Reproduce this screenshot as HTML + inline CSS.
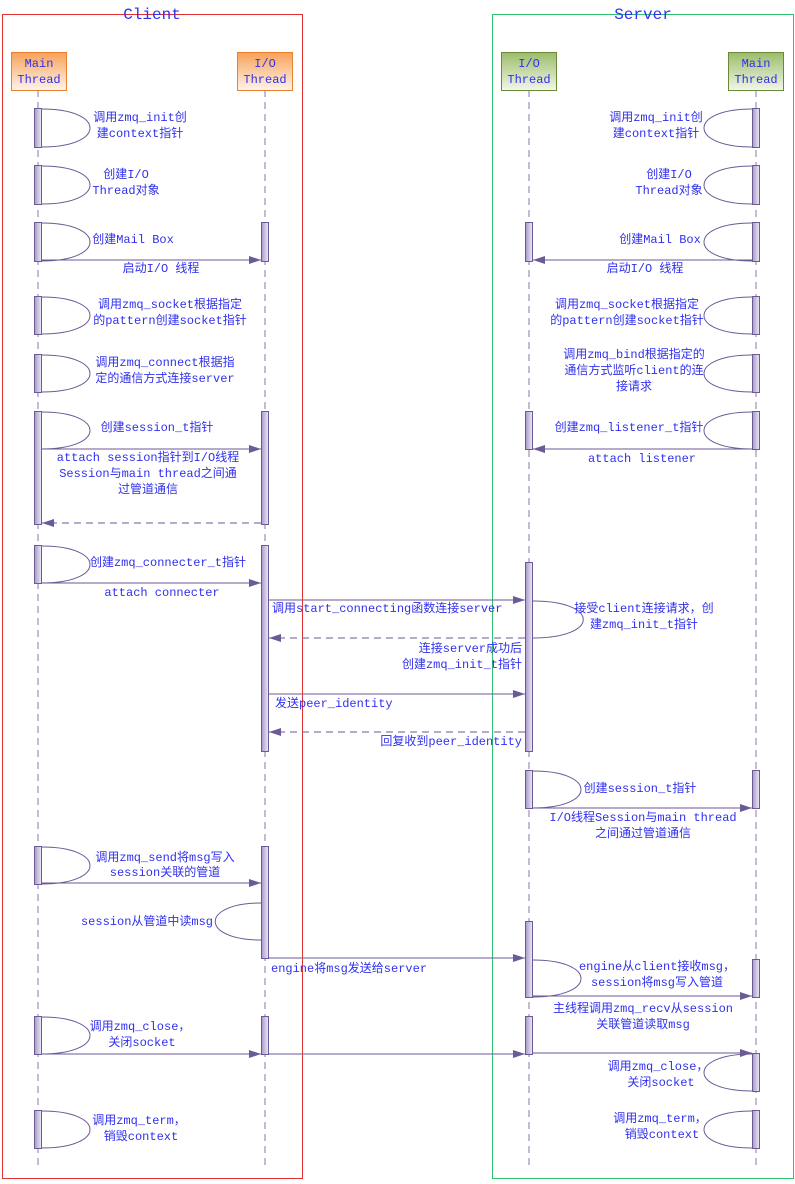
<!DOCTYPE html>
<html><head><meta charset="utf-8"><style>
body{margin:0;background:#fff}
text{font-family:"Liberation Mono","Noto Sans CJK SC",monospace;font-size:12px;fill:#3030ee}
</style></head><body>
<svg width="795" height="1179" viewBox="0 0 795 1179" xmlns="http://www.w3.org/2000/svg">
<defs>
<linearGradient id="og" x1="0" y1="0" x2="0" y2="1"><stop offset="0" stop-color="#f7a25a"/><stop offset="1" stop-color="#fff4ea"/></linearGradient>
<linearGradient id="gg" x1="0" y1="0" x2="0" y2="1"><stop offset="0" stop-color="#9cbc6a"/><stop offset="1" stop-color="#f2f7ea"/></linearGradient>
<linearGradient id="bar" x1="0" y1="0" x2="1" y2="0"><stop offset="0" stop-color="#a898c8"/><stop offset="1" stop-color="#eeeaf6"/></linearGradient>
<marker id="a" markerWidth="12" markerHeight="8" refX="12" refY="4" orient="auto" markerUnits="userSpaceOnUse"><path d="M0,0 L12,4 L0,8z" fill="#6a5a96"/></marker>
</defs>
<rect x="2.5" y="14.5" width="300" height="1164" fill="none" stroke="#e03030"/>
<rect x="492.5" y="14.5" width="301" height="1164" fill="none" stroke="#30c070"/>
<text x="152" y="19" text-anchor="middle" style="font-size:16px">Client</text>
<text x="643" y="19" text-anchor="middle" style="font-size:16px">Server</text>
<g stroke="#8a7aaa" stroke-dasharray="7,5">
<line x1="38" y1="90" x2="38" y2="1168"/><line x1="265" y1="90" x2="265" y2="1168"/>
<line x1="529" y1="90" x2="529" y2="1168"/><line x1="756" y1="90" x2="756" y2="1168"/>
</g>
<rect x="11.5" y="52.5" width="55" height="38" fill="url(#og)" stroke="#e88030"/>
<rect x="237.5" y="52.5" width="55" height="38" fill="url(#og)" stroke="#e88030"/>
<rect x="501.5" y="52.5" width="55" height="38" fill="url(#gg)" stroke="#6a8a3a"/>
<rect x="728.5" y="52.5" width="55" height="38" fill="url(#gg)" stroke="#6a8a3a"/>
<text x="39" y="67" text-anchor="middle">Main</text><text x="39" y="83" text-anchor="middle">Thread</text>
<text x="265" y="67" text-anchor="middle">I/O</text><text x="265" y="83" text-anchor="middle">Thread</text>
<text x="529" y="67" text-anchor="middle">I/O</text><text x="529" y="83" text-anchor="middle">Thread</text>
<text x="756" y="67" text-anchor="middle">Main</text><text x="756" y="83" text-anchor="middle">Thread</text>
<g fill="url(#bar)" stroke="#6a5a96">
<rect x="34.5" y="108.5" width="7" height="39"/><rect x="34.5" y="165.5" width="7" height="39"/>
<rect x="34.5" y="222.5" width="7" height="39"/><rect x="34.5" y="296.5" width="7" height="38"/>
<rect x="34.5" y="354.5" width="7" height="38"/><rect x="34.5" y="411.5" width="7" height="113"/>
<rect x="34.5" y="545.5" width="7" height="38"/><rect x="34.5" y="846.5" width="7" height="38"/>
<rect x="34.5" y="1016.5" width="7" height="38"/><rect x="34.5" y="1110.5" width="7" height="38"/>
<rect x="261.5" y="222.5" width="7" height="39"/><rect x="261.5" y="411.5" width="7" height="113"/>
<rect x="261.5" y="545.5" width="7" height="206"/><rect x="261.5" y="846.5" width="7" height="112"/>
<rect x="261.5" y="1016.5" width="7" height="38"/>
<rect x="525.5" y="222.5" width="7" height="39"/><rect x="525.5" y="411.5" width="7" height="38"/>
<rect x="525.5" y="562.5" width="7" height="189"/><rect x="525.5" y="770.5" width="7" height="38"/>
<rect x="525.5" y="921.5" width="7" height="76"/><rect x="525.5" y="1016.5" width="7" height="38"/>
<rect x="752.5" y="108.5" width="7" height="39"/><rect x="752.5" y="165.5" width="7" height="39"/>
<rect x="752.5" y="222.5" width="7" height="39"/><rect x="752.5" y="296.5" width="7" height="38"/>
<rect x="752.5" y="354.5" width="7" height="38"/><rect x="752.5" y="411.5" width="7" height="38"/>
<rect x="752.5" y="770.5" width="7" height="38"/><rect x="752.5" y="959.5" width="7" height="38"/>
<rect x="752.5" y="1053.5" width="7" height="38"/><rect x="752.5" y="1110.5" width="7" height="38"/>
</g>
<g fill="none" stroke="#6a5a96">
<path d="M42,109 C106,109 106,147 42,147"/><path d="M42,166 C106,166 106,204 42,204"/>
<path d="M42,223 C106,223 106,261 42,261"/><path d="M42,297 C106,297 106,334 42,334"/>
<path d="M42,355 C106,355 106,392 42,392"/><path d="M42,412 C106,412 106,449 42,449"/>
<path d="M42,546 C106,546 106,583 42,583"/><path d="M42,847 C106,847 106,884 42,884"/>
<path d="M42,1017 C106,1017 106,1054 42,1054"/><path d="M42,1111 C106,1111 106,1148 42,1148"/>
<path d="M752,109 C688,109 688,147 752,147"/><path d="M752,166 C688,166 688,204 752,204"/>
<path d="M752,223 C688,223 688,261 752,261"/><path d="M752,297 C688,297 688,334 752,334"/>
<path d="M752,355 C688,355 688,392 752,392"/><path d="M752,412 C688,412 688,449 752,449"/>
<path d="M752,1054 C688,1054 688,1091 752,1091"/><path d="M752,1111 C688,1111 688,1148 752,1148"/>
<path d="M533,601 C600,601 600,638 533,638"/><path d="M533,771 C597,771 597,808 533,808"/>
<path d="M533,960 C597,960 597,997 533,997"/>
<path d="M261,903 C200,903 200,940 261,940"/>
</g>
<g stroke="#6a5a96" fill="none" marker-end="url(#a)">
<line x1="42" y1="260" x2="261" y2="260"/><line x1="752" y1="260" x2="533" y2="260"/>
<line x1="42" y1="449" x2="261" y2="449"/><line x1="752" y1="449" x2="533" y2="449"/>
<line x1="261" y1="523" x2="42" y2="523" stroke-dasharray="7,5"/>
<line x1="42" y1="583" x2="261" y2="583"/>
<line x1="269" y1="600" x2="525" y2="600"/>
<line x1="525" y1="638" x2="269" y2="638" stroke-dasharray="7,5"/>
<line x1="269" y1="694" x2="525" y2="694"/>
<line x1="525" y1="732" x2="269" y2="732" stroke-dasharray="7,5"/>
<line x1="533" y1="808" x2="752" y2="808"/>
<line x1="42" y1="883" x2="261" y2="883"/>
<line x1="269" y1="958" x2="525" y2="958"/>
<line x1="533" y1="996" x2="752" y2="996"/>
<line x1="42" y1="1054" x2="261" y2="1054"/><line x1="269" y1="1054" x2="525" y2="1054"/>
<line x1="533" y1="1053" x2="752" y2="1053"/>
</g>
<g text-anchor="middle">
<text x="140" y="121">调用zmq_init创</text><text x="140" y="137">建context指针</text>
<text x="126" y="178">创建I/O</text><text x="126" y="194">Thread对象</text>
<text x="133" y="243">创建Mail Box</text>
<text x="161" y="272">启动I/O 线程</text>
<text x="170" y="308">调用zmq_socket根据指定</text><text x="170" y="324">的pattern创建socket指针</text>
<text x="165" y="366">调用zmq_connect根据指</text><text x="165" y="382">定的通信方式连接server</text>
<text x="157" y="431">创建session_t指针</text>
<text x="148" y="461">attach session指针到I/O线程</text><text x="148" y="477">Session与main thread之间通</text><text x="148" y="493">过管道通信</text>
<text x="168" y="566">创建zmq_connecter_t指针</text>
<text x="162" y="596">attach connecter</text>
<text x="165" y="861">调用zmq_send将msg写入</text><text x="165" y="876">session关联的管道</text>
<text x="140" y="1030">调用zmq_close，</text><text x="142" y="1046">关闭socket</text>
<text x="139" y="1124">调用zmq_term，</text><text x="141" y="1140">销毁context</text>
<text x="656" y="121">调用zmq_init创</text><text x="656" y="137">建context指针</text>
<text x="669" y="178">创建I/O</text><text x="669" y="194">Thread对象</text>
<text x="660" y="243">创建Mail Box</text>
<text x="645" y="272">启动I/O 线程</text>
<text x="627" y="308">调用zmq_socket根据指定</text><text x="627" y="324">的pattern创建socket指针</text>
<text x="634" y="358">调用zmq_bind根据指定的</text><text x="634" y="374">通信方式监听client的连</text><text x="634" y="390">接请求</text>
<text x="629" y="431">创建zmq_listener_t指针</text>
<text x="642" y="462">attach listener</text>
<text x="644" y="612">接受client连接请求，创</text><text x="644" y="628">建zmq_init_t指针</text>
<text x="640" y="792">创建session_t指针</text>
<text x="643" y="821">I/O线程Session与main thread</text><text x="643" y="837">之间通过管道通信</text>
<text x="657" y="970">engine从client接收msg，</text><text x="657" y="986">session将msg写入管道</text>
<text x="643" y="1012">主线程调用zmq_recv从session</text><text x="643" y="1028">关联管道读取msg</text>
<text x="658" y="1070">调用zmq_close，</text><text x="661" y="1086">关闭socket</text>
<text x="660" y="1122">调用zmq_term，</text><text x="662" y="1138">销毁context</text>
</g>
<text x="272" y="612">调用start_connecting函数连接server</text>
<text x="522" y="652" text-anchor="end">连接server成功后</text><text x="522" y="668" text-anchor="end">创建zmq_init_t指针</text>
<text x="275" y="707">发送peer_identity</text>
<text x="522" y="745" text-anchor="end">回复收到peer_identity</text>
<text x="213" y="925" text-anchor="end">session从管道中读msg</text>
<text x="271" y="972">engine将msg发送给server</text>
</svg>
</body></html>
